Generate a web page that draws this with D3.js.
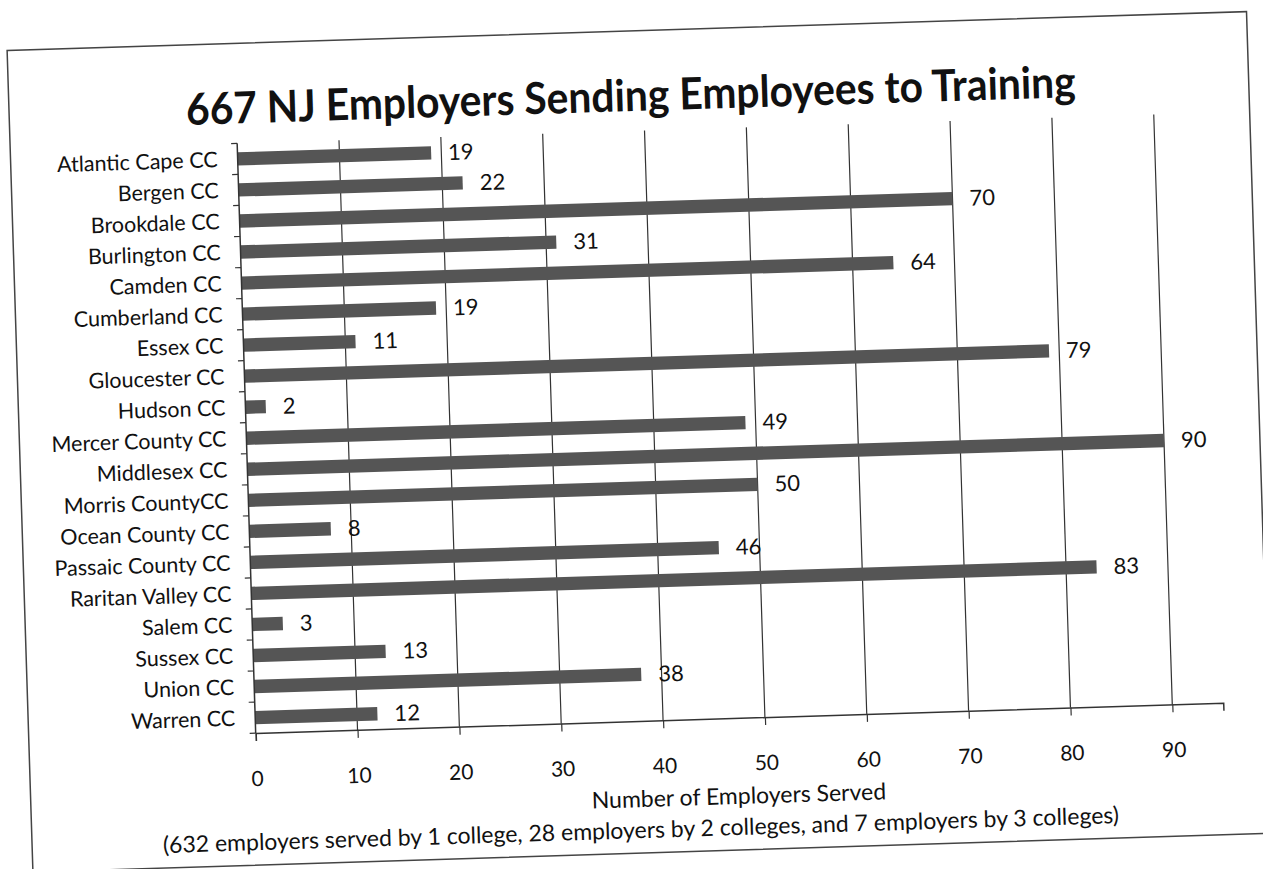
<!DOCTYPE html>
<html>
<head>
<meta charset="utf-8">
<script src="https://cdn.jsdelivr.net/npm/d3@7"></script>
<style>
  body { margin: 0; background: #fff; }
  text { font-family: Lato, "Open Sans", sans-serif; fill: #111; }
</style>
</head>
<body>
<div id="chart"></div>
<script>
// colleges, top to bottom
const colleges = ["Atlantic Cape CC", "Bergen CC", "Brookdale CC", "Burlington CC", "Camden CC",
  "Cumberland CC", "Essex CC", "Gloucester CC", "Hudson CC", "Mercer County CC", "Middlesex CC",
  "Morris CountyCC", "Ocean County CC", "Passaic County CC", "Raritan Valley  CC", "Salem CC",
  "Sussex CC", "Union CC", "Warren CC"];
const employers = [19, 22, 70, 31, 64, 19, 11, 79, 2, 49, 90, 50, 8, 46, 83, 3, 13, 38, 12];
const xTicks = [0, 10, 20, 30, 40, 50, 60, 70, 80, 90];
const titleText = "667 NJ Employers Sending Employees to Training";
const xTitle = "Number of Employers Served";
const xNote = "(632 employers served by 1 college, 28 employers by 2 colleges, and 7 employers by 3 colleges)";

const width = 1263, height = 869;

let svg = d3.select("#chart")
    .append("svg")
    .attr("width", width)
    .attr("height", height);

svg.append("rect")
    .attr("width", width)
    .attr("height", height)
    .attr("fill", "#fff");

// the page was scanned a little crooked
let page = svg.append("g")
    .attr("transform", "rotate(-1.8, 700, 450)");

page.append("rect")
    .attr("x", 20)
    .attr("y", 29)
    .attr("width", 1240)
    .attr("height", 822)
    .attr("fill", "none")
    .attr("stroke", "#444")
    .attr("stroke-width", 1.5);

// title is a narrow bold face in the original, squeeze it to the same width
page.append("text")
    .attr("x", 642)
    .attr("y", 109)
    .attr("text-anchor", "middle")
    .attr("font-weight", "bold")
    .attr("font-size", 44)
    .attr("textLength", 890)
    .attr("lengthAdjust", "spacingAndGlyphs")
    .text(titleText);

let plotTop = 129, plotBottom = 719;

let x = d3.scaleLinear().domain([0, 95]).range([247, 1215]);
let y = d3.scaleBand().domain(colleges).range([plotTop, plotBottom]).paddingInner(0.57).paddingOuter(0.285);

// vertical gridlines
page.append("g")
    .selectAll("line")
    .data(xTicks.slice(1))
    .enter()
    .append("line")
    .attr("x1", d => x(d))
    .attr("x2", d => x(d))
    .attr("y1", plotTop)
    .attr("y2", plotBottom)
    .attr("stroke", "#333")
    .attr("stroke-width", 1.2);

// bars
page.append("g")
    .selectAll("rect")
    .data(employers)
    .enter()
    .append("rect")
    .attr("x", x(0))
    .attr("y", (d, i) => y(colleges[i]))
    .attr("width", d => x(d) - x(0))
    .attr("height", y.bandwidth())
    .attr("fill", "#555");

// value labels
page.append("g")
    .selectAll("text")
    .data(employers)
    .enter()
    .append("text")
    .attr("x", d => x(d) + 17)
    .attr("y", (d, i) => y(colleges[i]) + y.bandwidth() / 2)
    .attr("dy", "0.35em")
    .attr("font-size", 22)
    .text(d => d);

// x axis
let xAxis = page.append("g")
    .attr("transform", `translate(0,${plotBottom})`)
    .call(d3.axisBottom(x).tickValues(xTicks).tickSize(8).tickPadding(30));
xAxis.select(".domain").attr("stroke", "#333").attr("stroke-width", 1.5);
xAxis.selectAll(".tick line").attr("stroke", "#333").attr("stroke-width", 1.2);
xAxis.selectAll(".tick text").attr("font-size", 21).attr("font-family", "Lato, sans-serif").attr("fill", "#111");

// y axis: ticks sit between the categories
let yAxis = page.append("g");
yAxis.append("line")
    .attr("x1", x(0)).attr("x2", x(0))
    .attr("y1", plotTop).attr("y2", plotBottom)
    .attr("stroke", "#333")
    .attr("stroke-width", 1.5);
let step = y.step();
yAxis.selectAll(".ytick")
    .data(d3.range(colleges.length + 1))
    .enter()
    .append("line")
    .attr("class", "ytick")
    .attr("x1", x(0) - 6).attr("x2", x(0))
    .attr("y1", i => plotTop + i * step)
    .attr("y2", i => plotTop + i * step)
    .attr("stroke", "#333")
    .attr("stroke-width", 1.2);
yAxis.selectAll(".ylabel")
    .data(colleges)
    .enter()
    .append("text")
    .attr("class", "ylabel")
    .attr("x", 227)
    .attr("y", d => y(d) + y.bandwidth() / 2)
    .attr("dy", "0.35em")
    .attr("text-anchor", "end")
    .attr("font-size", 21.5)
    .text(d => d);

// axis titles
page.append("text")
    .attr("x", 728)
    .attr("y", 797)
    .attr("text-anchor", "middle")
    .attr("dy", "0.35em")
    .attr("font-size", 23)
    .text(xTitle);

page.append("text")
    .attr("x", 629)
    .attr("y", 828)
    .attr("text-anchor", "middle")
    .attr("dy", "0.35em")
    .attr("font-size", 23)
    .text(xNote);
</script>
</body>
</html>
